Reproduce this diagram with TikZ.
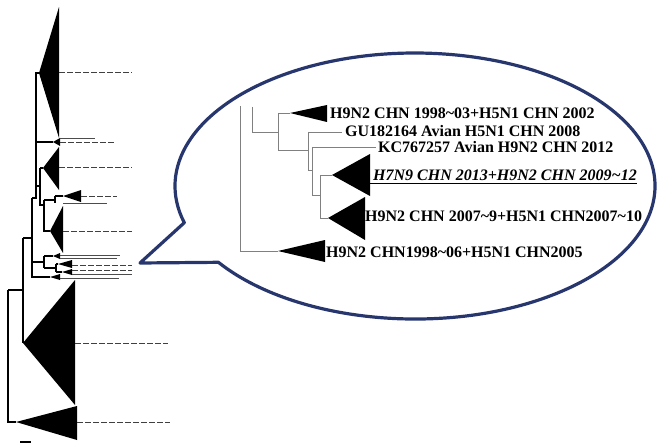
\documentclass[tikz,border=0pt]{standalone}
\usepackage{fontspec}
\setmainfont{Liberation Serif}
\definecolor{calloutblue}{RGB}{40,54,110}
\begin{document}
\begin{tikzpicture}[x=1pt,y=-1pt,
  branch/.style={black,line width=1.2pt},
  leafdash/.style={black!75,line width=1pt,dash pattern=on 6pt off 2pt},
  leafline/.style={black!70,line width=1pt},
  inner/.style={black!50,line width=0.9pt},
  label/.style={anchor=base west,inner sep=0pt,font=\fontsize{16}{18}\selectfont\bfseries},
  bubble/.style={draw=calloutblue,line width=3.2pt,line join=round}]
\useasboundingbox (0,0) rectangle (657,444);

% ---------- full tree (left) ----------
% branches
\draw[branch] (8,290) -- (8,422) -- (16,422);
\draw[branch] (8,290) -- (23,290);
\draw[branch] (23,238) -- (23,343);
\draw[branch] (23,238) -- (32,238);
\draw[branch] (32,198) -- (32,277) -- (50,277);
\draw[branch] (32,198) -- (36,198) -- (36,73) -- (39,73);
\draw[branch] (36,142) -- (53,142);
\draw[branch] (36,186) -- (40,186);
\draw[branch] (40,168) -- (43,168);
\draw[branch] (40,168) -- (40,205) -- (44,205);
\draw[branch] (44,200) -- (44,231) -- (50,231);
\draw[branch] (44,200) -- (55,200);
\draw[branch] (55,196) -- (55,203);
\draw[branch] (55,196) -- (63,196);
\draw[branch] (32,262) -- (44,262);
\draw[branch] (44,256) -- (44,268);
\draw[branch] (44,256) -- (53,256);
\draw[branch] (44,268) -- (56,268);
\draw[branch] (56,264) -- (56,272);
\draw[branch] (56,264) -- (58,264);
\draw[branch] (56,272) -- (62,272);

% collapsed clades
\fill (39,73) -- (59,7) -- (59,138) -- cycle;
\fill (53,142) -- (60,138) -- (60,146) -- cycle;
\fill (43,168) -- (59,147) -- (59,190) -- cycle;
\fill (63,196) -- (81,190) -- (81,202) -- cycle;
\fill (50,231) -- (63,206) -- (63,253) -- cycle;
\fill (53,256) -- (60,253) -- (60,259) -- cycle;
\fill (58,264) -- (72,260) -- (72,268) -- cycle;
\fill (62,272) -- (72,269) -- (72,275) -- cycle;
\fill (50,277) -- (60,274) -- (60,280) -- cycle;
\fill (23,343) -- (75,280) -- (75,405) -- cycle;
\fill (16,422) -- (77,406) -- (77,440) -- cycle;

% leaf lines
\draw[leafdash] (59,73) -- (132,73);
\draw[leafdash] (60,143) -- (114,143);
\draw[leafdash] (59,168) -- (132,168);
\draw[leafdash] (81,196) -- (117,196);
\draw[leafdash] (63,231) -- (132,231);
\draw[leafdash] (75,343) -- (168,343);
\draw[leafdash] (77,422) -- (170,422);
\draw[leafdash] (72,265) -- (132,265);
\draw[leafdash] (72,270) -- (132,270);
\draw[leafline] (60,139) -- (95,139);
\draw[leafline] (63,203) -- (107,203);
\draw[leafline] (60,255) -- (120,255);
\draw[leafline] (60,258) -- (117,258);
\draw[leafline] (72,274) -- (132,274);
\draw[leafline] (60,278) -- (119,278);

% scale bar
\draw[line width=1.5pt] (20,442) -- (31,442);

% ---------- callout ----------
\coordinate (ptip) at (140,263);
\coordinate (pupper) at (184.3,222.7);
\coordinate (plower) at (218.4,262.3);
\draw[bubble] (pupper) -- (ptip) -- (plower)
  arc[start angle=145,end angle=-196,x radius=240,y radius=133] -- cycle;

% ---------- enlarged subtree ----------
\draw[inner] (240,106) -- (240,251) -- (278,251);
\draw[inner] (252,107) -- (252,132) -- (278,132);
\draw[inner] (278,113) -- (278,150);
\draw[inner] (278,113) -- (290,113);
\draw[inner] (278,150) -- (308,150);
\draw[inner] (308,132) -- (308,170) -- (312,170);
\draw[inner] (308,132) -- (342,132);
\draw[inner] (312,147) -- (312,195) -- (320,195);
\draw[inner] (312,147) -- (376,147);
\draw[inner] (320,175) -- (320,218);
\draw[inner] (320,175) -- (332,175);
\draw[inner] (320,218) -- (328,218);

\fill (290,113) -- (327,105) -- (327,122) -- cycle;
\fill (332,175) -- (370,154) -- (370,196) -- cycle;
\fill (328,218) -- (365,197) -- (365,240) -- cycle;
\fill (278,251) -- (325,240) -- (325,262) -- cycle;

\node[label] (t1) at (330,119) {H9N2 CHN 1998\textasciitilde03+H5N1 CHN 2002};
\node[label] (t2) at (345,137) {GU182164 Avian H5N1 CHN 2008};
\node[label] (t3) at (378,152.5) {KC767257 Avian H9N2 CHN 2012};
\node[label,font=\fontsize{16}{18}\selectfont\bfseries\itshape] (t4) at (373,180)
  {H7N9 CHN 2013+H9N2 CHN 2009\textasciitilde12};
\draw[line width=0.9pt] ([xshift=-3pt,yshift=-3.5pt]t4.base west) -- ([yshift=-3.5pt]t4.base east);
\node[label] (t5) at (365,222) {H9N2 CHN 2007\textasciitilde9+H5N1 CHN2007\textasciitilde10};
\node[label] (t6) at (326,257) {H9N2 CHN1998\textasciitilde06+H5N1 CHN2005};
\end{tikzpicture}
\end{document}
